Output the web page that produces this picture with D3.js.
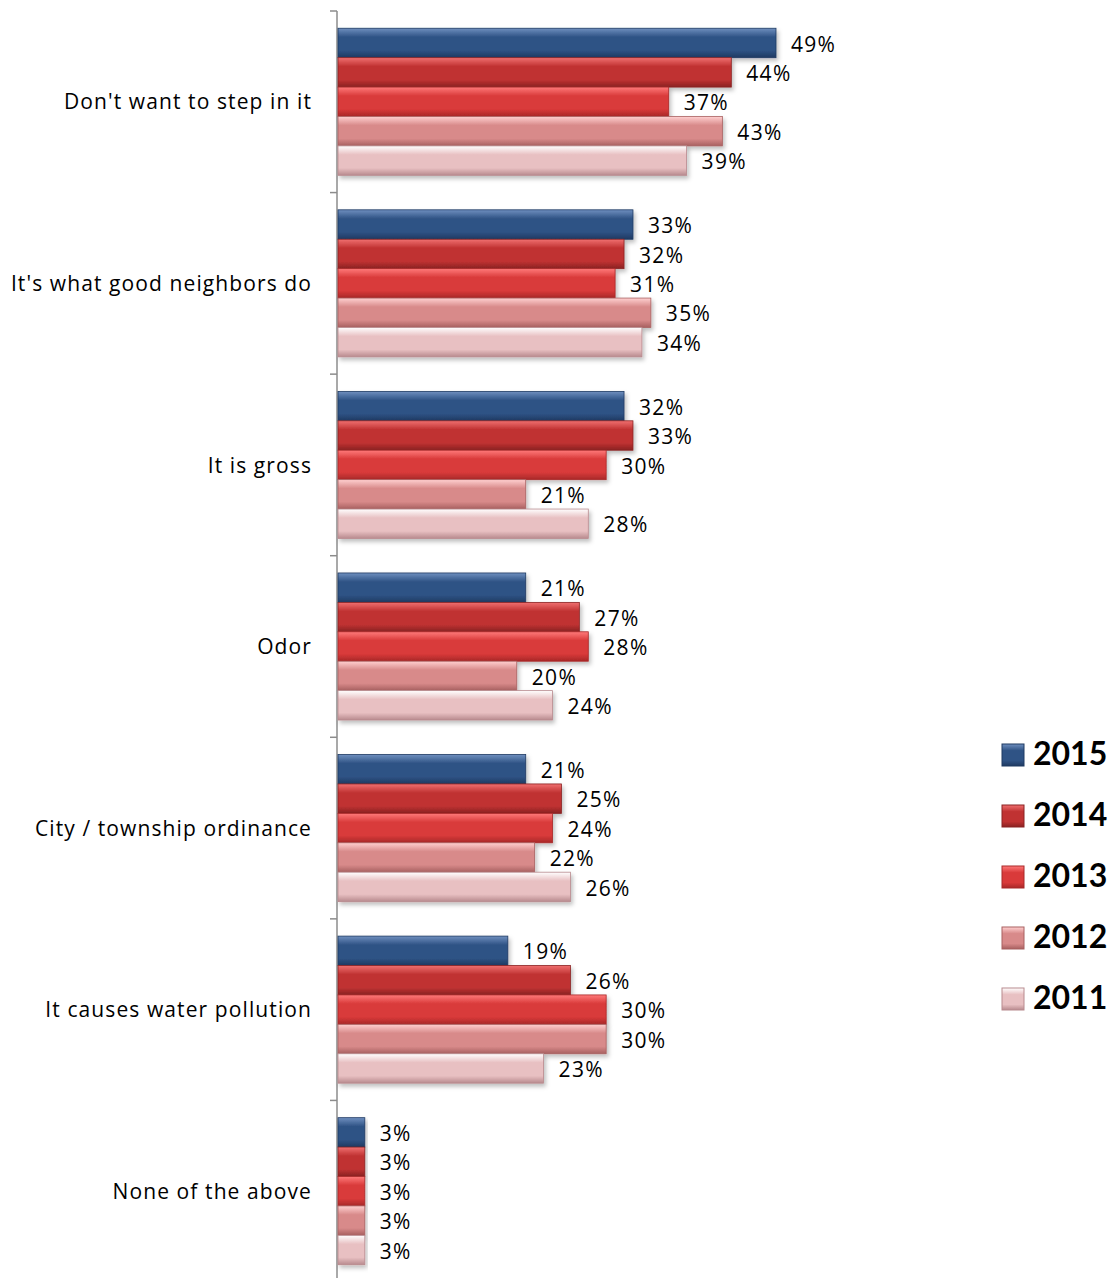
<!DOCTYPE html>
<html>
<head>
<meta charset="utf-8">
<script src="https://cdn.jsdelivr.net/npm/d3@7"></script>
<style>
  body { margin: 0; background: #fff; }
  svg { display: block; }
</style>
</head>
<body>
<svg id="chart" width="1112" height="1278"></svg>
<script>
// Reasons for picking up after a dog, by survey year
const categories = [
  "Don't want to step in it",
  "It's what good neighbors do",
  "It is gross",
  "Odor",
  "City / township ordinance",
  "It causes water pollution",
  "None of the above"
];
const years = ["2015", "2014", "2013", "2012", "2011"];
const v2015 = [49, 33, 32, 21, 21, 19, 3];
const v2014 = [44, 32, 33, 27, 25, 26, 3];
const v2013 = [37, 31, 30, 28, 24, 30, 3];
const v2012 = [43, 35, 21, 20, 22, 30, 3];
const v2011 = [39, 34, 28, 24, 26, 23, 3];
const seriesValues = [v2015, v2014, v2013, v2012, v2011];

// light / mid / dark shades for each year's bevelled fill
const shades = [
  ["#6f8fbf", "#2f5385", "#1f3a62"],
  ["#f07070", "#c03232", "#8a2222"],
  ["#ff7a7a", "#d93a3a", "#a82828"],
  ["#ffd0d0", "#d88a8a", "#a86060"],
  ["#ffffff", "#e8c0c2", "#b88a8e"]
];

const svg = d3.select("#chart");
const defs = svg.append("defs");
shades.forEach((s, i) => {
  const g = defs.append("linearGradient")
    .attr("id", "grad" + i).attr("x1", 0).attr("y1", 0).attr("x2", 0).attr("y2", 1);
  g.append("stop").attr("offset", "0%").attr("stop-color", s[0]);
  g.append("stop").attr("offset", "30%").attr("stop-color", s[1]);
  g.append("stop").attr("offset", "75%").attr("stop-color", s[1]);
  g.append("stop").attr("offset", "100%").attr("stop-color", s[2]);
});
const shadow = defs.append("filter").attr("id", "shadow")
  .attr("x", "-5%").attr("y", "-20%").attr("width", "115%").attr("height", "160%");
shadow.append("feDropShadow").attr("dx", 2).attr("dy", 3)
  .attr("stdDeviation", 2).attr("flood-color", "#000").attr("flood-opacity", 0.25);

const axisX = 338;
const plotTop = 11, plotBottom = 1282;
const x = d3.scaleLinear().domain([0, 49]).range([axisX, 776]);
const y = d3.scaleBand().domain(categories).range([plotTop, plotBottom]).paddingInner(0.19).paddingOuter(0.095);
const yInner = d3.scaleBand().domain(years).range([0, y.bandwidth()]);

const font = "'Open Sans', sans-serif";

// category axis with ticks between groups
const axisG = svg.append("g");
axisG.append("line")
  .attr("x1", axisX - 1).attr("x2", axisX - 1).attr("y1", plotTop).attr("y2", 1278)
  .attr("stroke", "#8c8c8c").attr("stroke-width", 1.5);
const step = (plotBottom - plotTop) / categories.length;
d3.range(categories.length + 1).forEach(i => {
  const ty = plotTop + i * step;
  axisG.append("line")
    .attr("x1", axisX - 8).attr("x2", axisX - 1).attr("y1", ty).attr("y2", ty)
    .attr("stroke", "#8c8c8c").attr("stroke-width", 1.5);
});

svg.append("g").selectAll("text").data(categories).join("text")
  .attr("x", 312)
  .attr("y", d => y(d) + y.bandwidth() / 2 + 2)
  .attr("text-anchor", "end")
  .attr("dominant-baseline", "middle")
  .attr("font-family", font).attr("font-size", 21).attr("letter-spacing", 1.1)
  .attr("fill", "#000")
  .text(d => d);

// bars
const cells = [];
categories.forEach((c, ci) => {
  years.forEach((yr, si) => {
    cells.push({ cat: c, year: yr, si, value: seriesValues[si][ci] });
  });
});

const barG = svg.append("g");
barG.selectAll("rect.bar").data(cells).join("rect")
  .attr("class", "bar")
  .attr("x", axisX)
  .attr("y", d => y(d.cat) + yInner(d.year))
  .attr("width", d => x(d.value) - axisX)
  .attr("height", yInner.bandwidth())
  .attr("fill", d => "url(#grad" + d.si + ")")
  .attr("stroke", d => shades[d.si][2]).attr("stroke-width", 0.8)
  .attr("filter", "url(#shadow)");

barG.selectAll("text.val").data(cells).join("text")
  .attr("class", "val")
  .attr("x", d => x(d.value) + 15)
  .attr("y", d => y(d.cat) + yInner(d.year) + yInner.bandwidth() / 2 + 3)
  .attr("dominant-baseline", "middle")
  .attr("font-family", font).attr("font-size", 21).attr("letter-spacing", 1.3)
  .attr("fill", "#000")
  .text(d => d.value + "%");

// legend
const legend = svg.append("g").attr("transform", "translate(1002,744)");
years.forEach((yr, i) => {
  const row = legend.append("g").attr("transform", `translate(0,${i * 61})`);
  row.append("rect").attr("width", 22).attr("height", 22)
    .attr("fill", "url(#grad" + i + ")")
    .attr("stroke", shades[i][2]).attr("stroke-width", 1);
  row.append("text").attr("x", 31).attr("y", 13)
    .attr("dominant-baseline", "middle")
    .attr("font-family", "Lato, sans-serif").attr("font-weight", "bold").attr("font-size", 32)
    .attr("fill", "#000").text(yr);
});
</script>
</body>
</html>
